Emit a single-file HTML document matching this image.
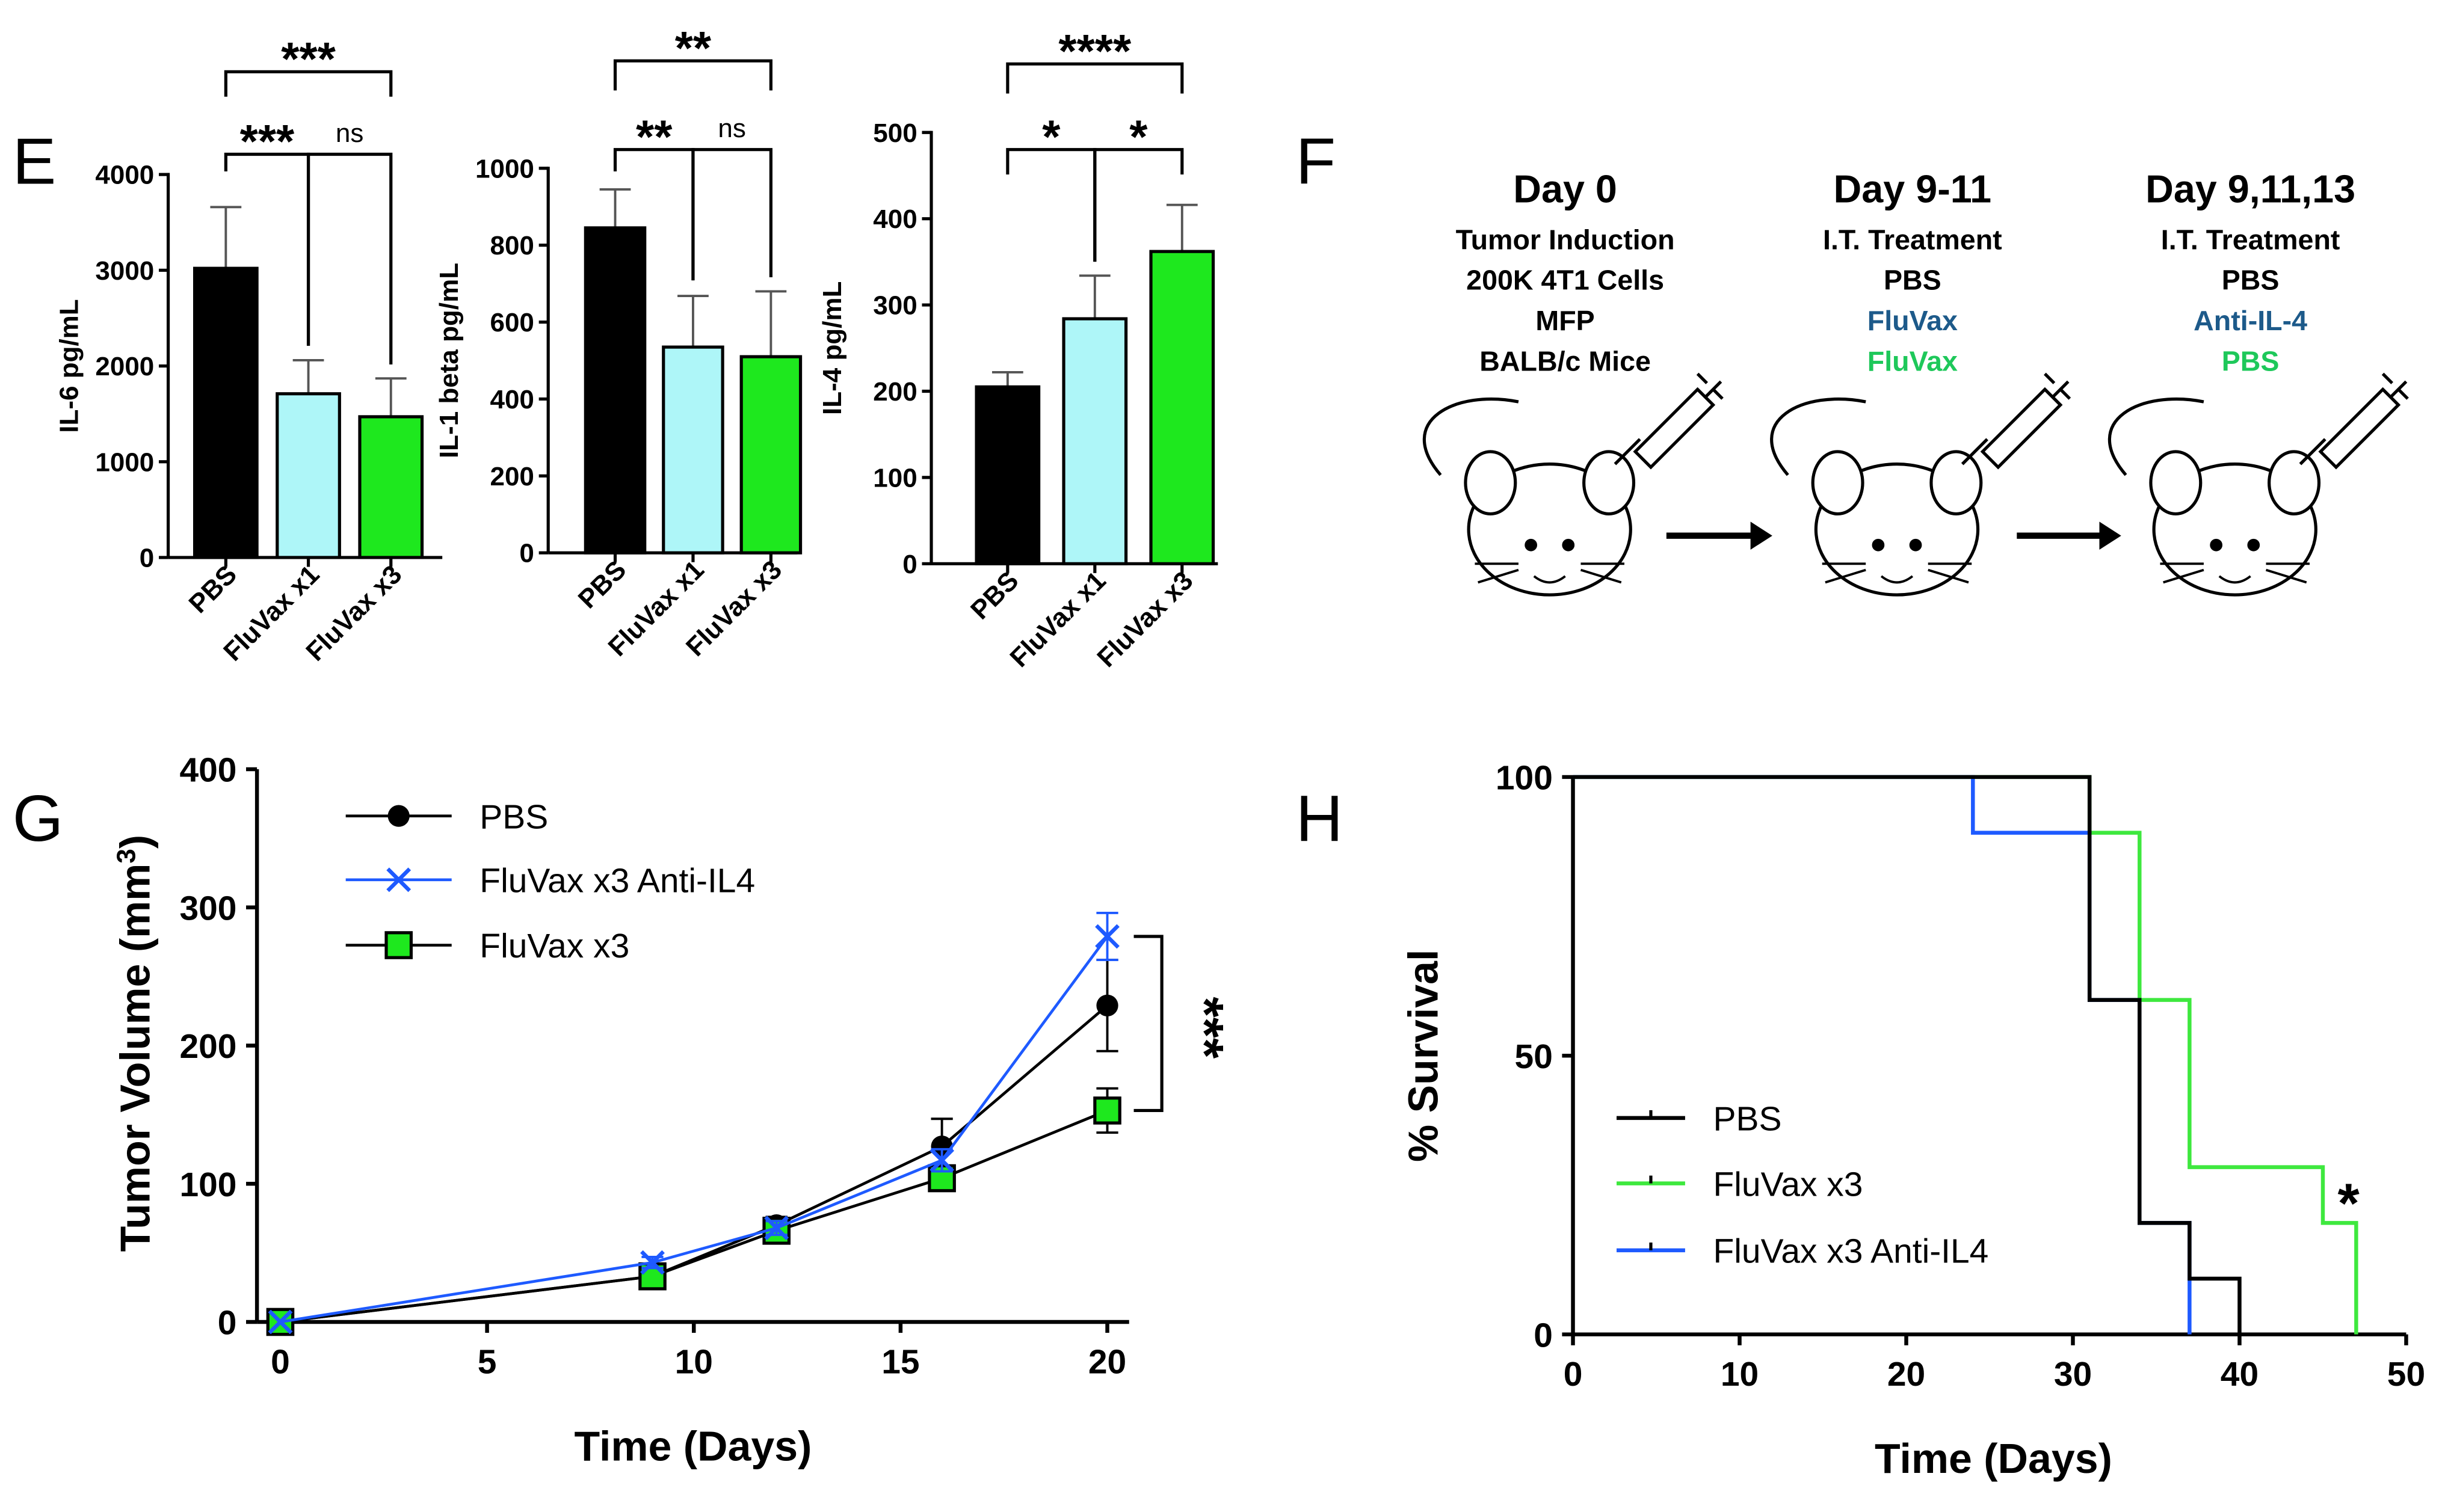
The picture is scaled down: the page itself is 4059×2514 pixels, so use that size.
<!DOCTYPE html>
<html><head><meta charset="utf-8">
<style>
html,body{margin:0;padding:0;background:#fff;}
svg{display:block;font-family:"Liberation Sans",Arial,sans-serif;}
</style></head>
<body>
<svg id="fig" width="4059" height="2514" viewBox="0 0 1568 971" xmlns="http://www.w3.org/2000/svg">
<rect width="1568" height="971" fill="#fff"/>
<text x="8" y="118" font-size="42">E</text>
<text x="832" y="118" font-size="42">F</text>
<text x="8" y="540" font-size="42">G</text>
<text x="832" y="540" font-size="42">H</text>
<g id="panelE"></g>
<g id="panelF"></g>
<g id="panelG"></g>
<g id="panelH"></g>
</svg>
<script>
const NS="http://www.w3.org/2000/svg";
// ---- Panel E data ----
const barCategories=["PBS","FluVax x1","FluVax x3"];
const il6Values=[3020,1710,1470];
const il6Errors=[640,350,400];
const il6Ticks=[0,1000,2000,3000,4000];
const il1Values=[845,535,510];
const il1Errors=[100,133,170];
const il1Ticks=[0,200,400,600,800,1000];
const il4Values=[205,284,362];
const il4Errors=[17,50,54];
const il4Ticks=[0,100,200,300,400,500];
// ---- Panel G data ----
const tvDays=[0,9,12,16,20];
const tvPBS=[0,33,70,127,229];
const tvPBSErr=[0,6,6,20,33];
const tvAnti=[0,43,68,117,279];
const tvAntiErr=[0,4,5,8,17];
const tvFlu=[0,33,66,104,153];
const tvFluErr=[0,4,5,6,16];
const tvXTicks=[0,5,10,15,20];
const tvYTicks=[0,100,200,300,400];
// ---- Panel H data ----
const survPBSDays=[0,31,34,37,40];
const survPBSVals=[100,60,20,10,0];
const survFluDays=[0,31,34,37,45,47];
const survFluVals=[100,90,60,30,20,0];
const survAntiDays=[0,24,31,34,37];
const survAntiVals=[100,90,60,20,0];
const survXTicks=[0,10,20,30,40,50];
const survYTicks=[0,50,100];

function mk(parent,tag,attrs,text){const e=document.createElementNS(NS,tag);for(const k in attrs)e.setAttribute(k,attrs[k]);if(text!==undefined)e.textContent=text;parent.appendChild(e);return e;}

// ---------- Panel E ----------
const E=document.getElementById('panelE');
const barColors=["#000","#aef6f8","#1ee81e"];
function barChart(cfg){
  const g=mk(E,'g',{});
  
  
  const y=v=>cfg.y0-(v-0)/(cfg.max)*(cfg.y0-cfg.yTop);
  const xs=i=>cfg.x0+cfg.first+i*cfg.step;
  const ax=mk(g,'line',{x1:cfg.x0,y1:cfg.yTop-1,x2:cfg.x0,y2:cfg.y0,stroke:'#000','stroke-width':2});
  
  const xa=mk(g,'line',{x1:cfg.x0,y1:cfg.y0,x2:cfg.x0+cfg.len,y2:cfg.y0,stroke:'#000','stroke-width':2});
  
  cfg.ticks.forEach(t=>{
    mk(g,'line',{x1:cfg.x0-6,y1:y(t),x2:cfg.x0,y2:y(t),stroke:'#000','stroke-width':2});
    const tl=mk(g,'text',{x:cfg.x0-9,y:y(t)+6,'text-anchor':'end','font-size':17,'font-weight':'bold'},t);
    
  });
  cfg.values.forEach((v,i)=>{
    const cx=xs(i);
    const e=mk(g,'line',{x1:cx,y1:y(v),x2:cx,y2:y(v+cfg.errors[i]),stroke:'#555','stroke-width':1.5});
    
    mk(g,'line',{x1:cx-10,y1:y(v+cfg.errors[i]),x2:cx+10,y2:y(v+cfg.errors[i]),stroke:'#555','stroke-width':1.5});
    const r=mk(g,'rect',{x:cx-cfg.bw/2,y:y(v),width:cfg.bw,height:cfg.y0-y(v),fill:barColors[i],stroke:'#000','stroke-width':2});
    
    mk(g,'line',{x1:cx,y1:cfg.y0,x2:cx,y2:cfg.y0+6,stroke:'#000','stroke-width':2});
    const lb=mk(g,'text',{x:cx+8,y:cfg.y0+12,'text-anchor':'end','font-size':17,'font-weight':'bold',transform:`rotate(-45 ${cx+8} ${cfg.y0+12})`},barCategories[i]);
    
  });
  const tt=mk(g,'text',{x:0,y:0,'text-anchor':'middle','font-size':17,'font-weight':'bold',transform:`translate(${cfg.x0-58},${(cfg.y0+cfg.yTop)/2}) rotate(-90)`},cfg.title);
  
  cfg.brackets.forEach(b=>{
    const xa=xs(b[0]),xb=xs(b[1]);
    mk(g,'path',{d:`M${xa} ${b[3]} V${b[2]} H${xb} V${b[4]}`,fill:'none',stroke:'#000','stroke-width':2});
    const s=mk(g,'text',{x:(xa+xb)/2,y:b[2]-(b[5]==='ns'?8:-2),'text-anchor':'middle','font-size':b[5]==='ns'?17:30,'font-weight':b[5]==='ns'?'normal':'bold'},b[5]);
    
  });
}
barChart({name:'il6-chart',x0:108,y0:358,yTop:112,max:4000,len:176,first:37,step:53,bw:40,values:il6Values,errors:il6Errors,ticks:il6Ticks,title:'IL-6 pg/mL',
  brackets:[[0,2,46,62,62,'***'],[0,1,99,110,222,'***'],[1,2,99,222,234,'ns']]});
barChart({name:'il1-chart',x0:352,y0:355,yTop:108,max:1000,len:160,first:43,step:50,bw:38,values:il1Values,errors:il1Errors,ticks:il1Ticks,title:'IL-1 beta pg/mL',
  brackets:[[0,2,39,58,58,'**'],[0,1,96,110,180,'**'],[1,2,96,180,178,'ns']]});
barChart({name:'il4-chart',x0:598,y0:362,yTop:85,max:500,len:184,first:49,step:56,bw:40,values:il4Values,errors:il4Errors,ticks:il4Ticks,title:'IL-4 pg/mL',
  brackets:[[0,2,41,60,60,'****'],[0,1,96,112,168,'*'],[1,2,96,168,112,'*']]});

// ---------- Panel F ----------
const F=document.getElementById('panelF');
const cols=[[1005,['Day 0','Tumor Induction','200K 4T1 Cells','MFP','BALB/c Mice'],['#000','#000','#000','#000','#000']],
 [1228,['Day 9-11','I.T. Treatment','PBS','FluVax','FluVax'],['#000','#000','#000','#1d5a8a','#1ec85a']],
 [1445,['Day 9,11,13','I.T. Treatment','PBS','Anti-IL-4','PBS'],['#000','#000','#000','#1d5a8a','#1ec85a']]];
cols.forEach(([cx,lines,colors],ci)=>{
  lines.forEach((t,i)=>{
    const el=mk(F,'text',{x:cx,y:i===0?130:(160+(i-1)*26),'text-anchor':'middle','font-size':i===0?25:18,'font-weight':'bold',fill:colors[i]},t);
    
  });
  const mx=cx-10, my=330;
  const m=mk(F,'g',{fill:'#fff',stroke:'#000','stroke-width':2});
  
  mk(m,'path',{d:`M${mx-70} ${my-25} C${mx-100} ${my-60} ${mx-60} ${my-80} ${mx-20} ${my-72}`,fill:'none'});
  mk(m,'ellipse',{cx:mx,cy:my+10,rx:52,ry:42});
  mk(m,'ellipse',{cx:mx-38,cy:my-20,rx:16,ry:20});
  mk(m,'ellipse',{cx:mx+38,cy:my-20,rx:16,ry:20});
  mk(m,'circle',{cx:mx-12,cy:my+20,r:3,fill:'#000'});
  mk(m,'circle',{cx:mx+12,cy:my+20,r:3,fill:'#000'});
  mk(m,'path',{d:`M${mx-10} ${my+40} q10 8 20 0 M${mx-20} ${my+32} h-28 M${mx-20} ${my+36} l-26 8 M${mx+20} ${my+32} h28 M${mx+20} ${my+36} l26 8`,fill:'none','stroke-width':1.5});
  const sy=mk(F,'g',{fill:'none',stroke:'#000','stroke-width':2});
  
  mk(sy,'path',{d:`M${mx+42} ${my-32} L${mx+58} ${my-48} M${mx+55} ${my-40} l10 10 l40 -40 l-10 -10 z M${mx+95} ${my-80} l10 10 M${mx+100} ${my-75} l10 -10 M${mx+105} ${my-80} l6 6 M${mx+95} ${my-90} l6 6`});
});
[[1070,1138],[1295,1362]].forEach(([a,b])=>{
  const ar=mk(F,'path',{d:`M${a} 344 H${b-12}`,stroke:'#000','stroke-width':4});
  
  mk(F,'path',{d:`M${b-14} 335 L${b} 344 L${b-14} 353 Z`,fill:'#000'});
});

// ---------- Panel G ----------
const G=document.getElementById('panelG');
const gx=d=>180+d*(711-180)/20, gy=v=>849-v*(849-494)/400;
mk(G,'line',{x1:165,y1:849,x2:725,y2:849,stroke:'#000','stroke-width':2.5});
mk(G,'line',{x1:165,y1:494,x2:165,y2:849,stroke:'#000','stroke-width':2.5});
tvYTicks.forEach(t=>{mk(G,'line',{x1:158,y1:gy(t),x2:165,y2:gy(t),stroke:'#000','stroke-width':2.5});
  const l=mk(G,'text',{x:152,y:gy(t)+8,'text-anchor':'end','font-size':22,'font-weight':'bold'},t);
  });
tvXTicks.forEach(t=>{mk(G,'line',{x1:gx(t),y1:849,x2:gx(t),y2:856,stroke:'#000','stroke-width':2.5});
  const l=mk(G,'text',{x:gx(t),y:882,'text-anchor':'middle','font-size':22,'font-weight':'bold'},t);
  });
let tyt=mk(G,'text',{x:0,y:0,'text-anchor':'middle','font-size':27,'font-weight':'bold',transform:'translate(96,670) rotate(-90)'},'Tumor Volume (mm');
mk(tyt,'tspan',{'baseline-shift':'super','font-size':17},'3');mk(tyt,'tspan',{},')');

let txt=mk(G,'text',{x:445,y:938,'text-anchor':'middle','font-size':27,'font-weight':'bold'},'Time (Days)');

function series(vals,errs,color,marker,name){
  const g=mk(G,'g',{});
  vals.forEach((v,i)=>{ if(errs[i]>0){mk(g,'line',{x1:gx(tvDays[i]),y1:gy(v-errs[i]),x2:gx(tvDays[i]),y2:gy(v+errs[i]),stroke:color,'stroke-width':1.5});
    [v-errs[i],v+errs[i]].forEach(e=>mk(g,'line',{x1:gx(tvDays[i])-7,y1:gy(e),x2:gx(tvDays[i])+7,y2:gy(e),stroke:color,'stroke-width':1.5}));}});
  mk(g,'polyline',{points:vals.map((v,i)=>gx(tvDays[i])+','+gy(v)).join(' '),fill:'none',stroke:color,'stroke-width':1.8});
  vals.forEach((v,i)=>{const x=gx(tvDays[i]),y=gy(v);let p;
    if(marker==='o')p=mk(g,'circle',{cx:x,cy:y,r:7,fill:'#000'});
    else if(marker==='x')p=mk(g,'path',{d:`M${x-7} ${y-7}L${x+7} ${y+7}M${x-7} ${y+7}L${x+7} ${y-7}`,stroke:color,'stroke-width':2.5});
    else p=mk(g,'rect',{x:x-8,y:y-8,width:16,height:16,fill:'#1ee81e',stroke:'#000','stroke-width':2});
    });
}
series(tvPBS,tvPBSErr,'#000','o','pbs');
series(tvFlu,tvFluErr,'#000','s','fluvax-x3');
series(tvAnti,tvAntiErr,'#1e5aff','x','fluvax-x3-anti-il4');
[['PBS','o','#000',524],['FluVax x3 Anti-IL4','x','#1e5aff',565],['FluVax x3','s','#000',607]].forEach(([t,m,c,y])=>{
  const g=mk(G,'g',{});
  mk(g,'line',{x1:222,y1:y,x2:290,y2:y,stroke:c,'stroke-width':1.8});
  if(m==='o')mk(g,'circle',{cx:256,cy:y,r:7,fill:'#000'});
  else if(m==='x')mk(g,'path',{d:`M249 ${y-7}L263 ${y+7}M249 ${y+7}L263 ${y-7}`,stroke:c,'stroke-width':2.5});
  else mk(g,'rect',{x:248,y:y-8,width:16,height:16,fill:'#1ee81e',stroke:'#000','stroke-width':2});
  mk(g,'text',{x:308,y:y+8,'font-size':22},t);
});
mk(G,'path',{d:`M728 ${gy(tvAnti[4])} H746 V${gy(tvFlu[4])} H728`,fill:'none',stroke:'#000','stroke-width':2});
let gs=mk(G,'text',{x:0,y:0,'text-anchor':'middle','font-size':34,'font-weight':'bold',transform:'translate(762,660) rotate(90)'},'***');


// ---------- Panel H ----------
const H=document.getElementById('panelH');
const hx=d=>1010+d*(1545-1010)/50, hy=v=>857-v*(857-499)/100;
mk(H,'line',{x1:1010,y1:857,x2:1545,y2:857,stroke:'#000','stroke-width':2.5});
mk(H,'line',{x1:1010,y1:499,x2:1010,y2:857,stroke:'#000','stroke-width':2.5});
survYTicks.forEach(t=>{mk(H,'line',{x1:1003,y1:hy(t),x2:1010,y2:hy(t),stroke:'#000','stroke-width':2.5});
  const l=mk(H,'text',{x:997,y:hy(t)+8,'text-anchor':'end','font-size':22,'font-weight':'bold'},t);
  });
survXTicks.forEach(t=>{mk(H,'line',{x1:hx(t),y1:857,x2:hx(t),y2:864,stroke:'#000','stroke-width':2.5});
  const l=mk(H,'text',{x:hx(t),y:890,'text-anchor':'middle','font-size':22,'font-weight':'bold'},t);
  });
let hyt=mk(H,'text',{x:0,y:0,'text-anchor':'middle','font-size':27,'font-weight':'bold',transform:'translate(923,678) rotate(-90)'},'% Survival');

let hxt=mk(H,'text',{x:1280,y:946,'text-anchor':'middle','font-size':27,'font-weight':'bold'},'Time (Days)');

function stepPath(days,vals,color,name){
  let d=`M${hx(days[0])} ${hy(vals[0])}`;
  for(let i=1;i<days.length;i++){d+=` H${hx(days[i])} V${hy(vals[i])}`;}
  const p=mk(H,'path',{d:d,fill:'none',stroke:color,'stroke-width':2.5});
  
}
stepPath(survFluDays,survFluVals,'#3ee83e','fluvax-x3');
stepPath(survAntiDays,survAntiVals,'#1e5aff','fluvax-x3-anti-il4');
stepPath(survPBSDays,survPBSVals,'#000','pbs');
[['PBS','#000',718],['FluVax x3','#3ee83e',760],['FluVax x3 Anti-IL4','#1e5aff',803]].forEach(([t,c,y])=>{
  const g=mk(H,'g',{});
  mk(g,'line',{x1:1038,y1:y,x2:1082,y2:y,stroke:c,'stroke-width':2.5});
  mk(g,'line',{x1:1060,y1:y-5,x2:1060,y2:y,stroke:'#000','stroke-width':2});
  mk(g,'text',{x:1100,y:y+8,'font-size':22},t);
});
let hs=mk(H,'text',{x:1508,y:785,'text-anchor':'middle','font-size':36,'font-weight':'bold'},'*');

</script>
</body></html>
